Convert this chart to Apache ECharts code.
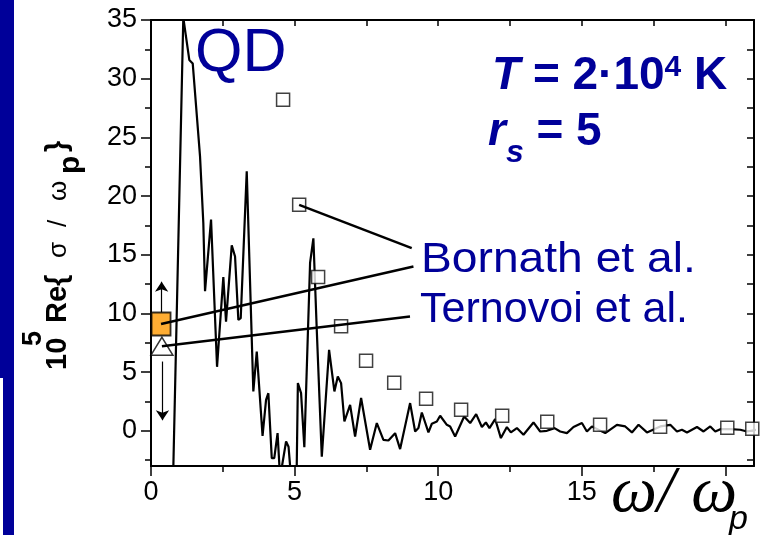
<!DOCTYPE html>
<html>
<head>
<meta charset="utf-8">
<script src="https://cdn.jsdelivr.net/npm/echarts@6/dist/echarts.min.js"></script>
<style>
  html, body { margin: 0; padding: 0; background: #fff; }
  #chart { width: 763px; height: 535px; }
</style>
</head>
<body>
<div id="chart"></div>
<script>
// Quantum-dynamics (QD) result: 10^5 Re{sigma / omega_p} versus omega / omega_p
const omega = [0.77, 1.125, 1.334, 1.453, 1.707, 1.822, 1.882, 2.091, 2.30, 2.519,
  2.613, 2.812, 2.927, 3.042, 3.125, 3.334, 3.564, 3.683, 3.885, 4.007,
  4.087, 4.206, 4.293, 4.408, 4.495, 4.704, 4.79, 4.878, 5.07, 5.115,
  5.226, 5.34, 5.54, 5.655, 5.773, 5.948, 6.202, 6.387, 6.505, 6.62,
  6.735, 6.934, 7.108, 7.317, 7.63, 7.864, 8.094, 8.268, 8.502, 8.676,
  9.024, 9.199, 9.314, 9.432, 9.662, 9.78, 9.955, 10.07, 10.303, 10.418,
  10.592, 10.906, 11.115, 11.324, 11.523, 11.662, 11.787, 11.986, 12.185, 12.394,
  12.533, 12.742, 12.972, 13.32, 13.554, 13.787, 14.052, 14.25, 14.484, 14.714,
  15.007, 15.181, 15.355, 15.819, 16.226, 16.516, 16.749, 16.979, 17.272, 17.735,
  18.084, 18.317, 18.491, 18.666, 19.014, 19.244, 19.477, 19.652, 19.826, 20.174,
  20.523, 20.756, 21.1];
const sigmaQD = [-4.0, 35.2, 31.6, 31.3, 23.4, 17.7, 11.9, 18.0, 5.45, 13.1,
  9.3, 15.8, 14.85, 9.45, 9.6, 22.1, 3.35, 6.75, -0.43, 2.64,
  3.2, -2.33, -2.33, -0.2, -4.0, -0.91, -1.36, -4.0, -4.0, 4.06,
  3.21, -1.4, 14.3, 16.4, 8.6, -2.2, 6.9, 3.35, 4.63, 4.06,
  0.79, 2.21, -0.49, 2.79, -1.62, 0.66, -0.77, -0.83, -0.2, -1.56,
  2.36, -0.06, 0.23, 1.56, -0.14, 0.6, 0.79, 1.28, 0.51, 0.37,
  -0.49, 1.22, 0.66, 1.42, 0.32, 0.71, 0.23, 1.0, -0.62, 0.32,
  -0.14, 0.23, -0.34, 0.71, -0.06, 0.0, 0.23, -0.06, -0.2, 0.32,
  0.66, -0.06, 0.37, -0.2, 0.51, 0.37, -0.14, 0.51, -0.14, 0.37,
  0.51, -0.06, 0.09, -0.14, 0.32, -0.06, 0.37, -0.06, 0.14, 0.14,
  0.09, -0.06, 0.09];

// Bornath et al.: open squares
const bornathOmega = [4.6, 5.16, 5.82, 6.62, 7.49, 8.47, 9.58, 10.8, 12.23, 13.8, 15.64, 17.73, 20.07, 20.94];
const bornathSigma = [28.2, 19.25, 13.1, 8.9, 5.96, 4.09, 2.73, 1.79, 1.28, 0.77, 0.51, 0.34, 0.26, 0.17];

// Static (omega -> 0) values with their uncertainty arrows
const bornathDc = [0.35, 9.1];
const bornathDcUpper = 12.7;
const ternovoiDc = [0.38, 7.2];
const ternovoiDcLower = 0.9;

// Where the pointer lines of the two captions end
const bornathCaptionAt = [[9.08, 15.56], [9.14, 14.0]];
const ternovoiCaptionAt = [9.02, 9.74];

// Axis ticks
const xLabels = [0, 5, 10, 15];
const xMajor = [0, 5, 10, 15, 20];
const xMinor = [2.5, 7.5, 12.5, 17.5];
const xTop = [0, 2.5, 5, 7.5, 10, 12.5, 15, 17.5, 20];
const yMajor = [0, 5, 10, 15, 20, 25, 30, 35];
const yMinor = [-2.5, 2.5, 7.5, 12.5, 17.5, 22.5, 27.5, 32.5];
const yRight = [-2.5, 0, 2.5, 5, 7.5, 10, 12.5, 15, 17.5, 20, 22.5, 25, 27.5, 30, 32.5];

const BLUE = '#000099';
const SANS = '"Liberation Sans", Arial, sans-serif';
const SERIF = '"Liberation Serif", "Times New Roman", serif';

const chart = echarts.init(document.getElementById('chart'), null, { renderer: 'canvas' });

const axisLine = { show: true, onZero: false, lineStyle: { color: '#000', width: 2 } };
const noLine = { show: false, onZero: false };
function xAx(pos, ticks, len, inside, labels, line) {
  return {
    type: 'value', position: pos, min: 0, max: 21,
    axisLine: line ? axisLine : noLine,
    axisTick: { show: true, inside: inside, length: len, customValues: ticks,
      lineStyle: { color: '#000', width: 1.5 } },
    axisLabel: labels ? { show: true, customValues: labels, color: '#000', fontSize: 27,
      fontFamily: SANS, margin: 13 } : { show: false },
    splitLine: { show: false }
  };
}
function yAx(pos, ticks, len, inside, labels, line) {
  return {
    type: 'value', position: pos, min: -3, max: 35,
    axisLine: line ? axisLine : noLine,
    axisTick: { show: true, inside: inside, length: len, customValues: ticks,
      lineStyle: { color: '#000', width: 1.5 } },
    axisLabel: labels ? { show: true, customValues: labels, color: '#000', fontSize: 27,
      fontFamily: SANS, margin: 14 } : { show: false },
    splitLine: { show: false }
  };
}

const pairs = (xs, ys) => xs.map((x, i) => [x, ys[i]]);

const option = {
  backgroundColor: '#fff',
  animation: false,
  grid: { left: 151, right: 9, top: 20, bottom: 69, containLabel: false, outerBoundsMode: 'none' },
  xAxis: [
    xAx('bottom', xMajor, 10, false, xLabels, true),
    xAx('bottom', xMinor, 6, false, null, false),
    xAx('top', xTop, 6, true, null, true)
  ],
  yAxis: [
    yAx('left', yMajor, 10, false, yMajor, true),
    yAx('left', yMinor, 6, false, null, false),
    yAx('right', yRight, 7, true, null, true)
  ],
  series: [
    {
      name: 'QD', type: 'line', xAxisIndex: 0, yAxisIndex: 0,
      data: pairs(omega, sigmaQD), showSymbol: false, symbol: 'none',
      clip: true, z: 2,
      lineStyle: { color: '#000', width: 2.2 }
    },
    {
      name: 'Bornath et al.', type: 'scatter', data: pairs(bornathOmega, bornathSigma),
      symbol: 'rect', symbolSize: 13, z: 3,
      itemStyle: { color: '#fff', borderColor: '#111', borderWidth: 1.5 }
    },
    {
      name: 'Bornath et al. (static)', type: 'scatter', data: [bornathDc],
      symbol: 'rect', symbolSize: [19, 23], z: 3,
      itemStyle: { color: '#FF9900', borderColor: '#000', borderWidth: 2 }
    },
    {
      name: 'Ternovoi et al.', type: 'scatter', data: [ternovoiDc],
      symbol: 'triangle', symbolSize: [22, 18], z: 3,
      itemStyle: { color: '#fff', borderColor: '#000', borderWidth: 1.5 }
    },
    {
      name: 'annotations', type: 'line', data: [], z: 5, silent: true,
      markLine: {
        silent: true, animation: false,
        label: { show: false },
        emphasis: { disabled: true },
        data: [
          [{ coord: [bornathOmega[1], bornathSigma[1]], symbol: 'none', lineStyle: { width: 2.5 } },
           { coord: bornathCaptionAt[0], symbol: 'none' }],
          [{ coord: bornathDc, symbol: 'none', lineStyle: { width: 2.5 } },
           { coord: bornathCaptionAt[1], symbol: 'none' }],
          [{ coord: ternovoiDc, symbol: 'none', lineStyle: { width: 2.5 } },
           { coord: ternovoiCaptionAt, symbol: 'none' }],
          [{ coord: [bornathDc[0] + 0.02, bornathDc[1] + 1.0], symbol: 'none', lineStyle: { width: 1.2 } },
           { coord: [bornathDc[0] + 0.02, bornathDcUpper], symbol: 'arrow', symbolSize: 10 }],
          [{ coord: [ternovoiDc[0] + 0.02, ternovoiDc[1] - 1.3], symbol: 'none', lineStyle: { width: 1.2 } },
           { coord: [ternovoiDc[0] + 0.02, ternovoiDcLower], symbol: 'arrow', symbolSize: 10 }]
        ],
        lineStyle: { color: '#000', type: 'solid', width: 2.5 },
        itemStyle: { color: '#000' }
      }
    }
  ],
  graphic: [
    // left decorative bar
    { type: 'rect', shape: { x: 0, y: 0, width: 14, height: 378 }, style: { fill: BLUE }, silent: true },
    { type: 'rect', shape: { x: 3, y: 378, width: 11, height: 157 }, style: { fill: BLUE }, silent: true },
    // plot labels
    { type: 'text', x: 195, y: 54, silent: true,
      style: { text: 'QD', font: '61px ' + SANS, fill: BLUE, textVerticalAlign: 'middle' } },
    { type: 'text', x: 492, y: 99, silent: true,
      style: {
        text: '{it|T}{b| = 2·10}{sup|4}{b| K}', textVerticalAlign: 'bottom', fill: BLUE,
        rich: {
          it: { fontFamily: SANS, fontSize: 46, fontWeight: 'bold', fontStyle: 'italic', fill: BLUE, verticalAlign: 'bottom' },
          b: { fontFamily: SANS, fontSize: 46, fontWeight: 'bold', fill: BLUE, verticalAlign: 'bottom' },
          sup: { fontFamily: SANS, fontSize: 30, fontWeight: 'bold', fill: BLUE, verticalAlign: 'bottom', padding: [0, 0, 16, 0] }
        }
      } },
    { type: 'text', x: 488, y: 169, silent: true,
      style: {
        text: '{r|r}{s|s}{b| = 5}', textVerticalAlign: 'bottom', fill: BLUE,
        rich: {
          r: { fontFamily: SANS, fontSize: 46, fontWeight: 'bold', fontStyle: 'italic', fill: BLUE, verticalAlign: 'bottom', padding: [0, 0, 14, 0] },
          s: { fontFamily: SANS, fontSize: 32, fontWeight: 'bold', fontStyle: 'italic', fill: BLUE, verticalAlign: 'bottom' },
          b: { fontFamily: SANS, fontSize: 46, fontWeight: 'bold', fill: BLUE, verticalAlign: 'bottom', padding: [0, 0, 14, 0] }
        }
      } },
    { type: 'text', x: 421, y: 260, scaleX: 1.1, silent: true,
      style: { text: 'Bornath et al.', font: '42px ' + SANS, fill: BLUE, textVerticalAlign: 'middle' } },
    { type: 'text', x: 420, y: 310, scaleX: 1.025, silent: true,
      style: { text: 'Ternovoi et al.', font: '42px ' + SANS, fill: BLUE, textVerticalAlign: 'middle' } },
    // x-axis title
    { type: 'text', x: 611, y: 494, silent: true,
      style: { text: 'ω/ ω', font: 'italic 65px ' + SERIF, fill: '#000', textVerticalAlign: 'middle' } },
    { type: 'text', x: 729, y: 520, silent: true,
      style: { text: 'p', font: 'italic 34px ' + SANS, fill: '#000', textVerticalAlign: 'middle' } },
    // y-axis title, reading bottom to top
    { type: 'group', x: 68, y: 370, rotation: Math.PI / 2, silent: true,
      children: [
        { type: 'text', x: 0, y: -10.5, style: { text: '10', font: 'bold 29px ' + SANS, fill: '#000', textVerticalAlign: 'middle' } },
        { type: 'text', x: 24, y: -34, style: { text: '5', font: 'bold 27px ' + SANS, fill: '#000', textVerticalAlign: 'middle' } },
        { type: 'text', x: 47, y: -10.5, style: { text: 'Re{', font: 'bold 29px ' + SANS, fill: '#000', textVerticalAlign: 'middle' } },
        { type: 'text', x: 112, y: -9, style: { text: 'σ', font: '26px ' + SANS, fill: '#000', textVerticalAlign: 'middle' } },
        { type: 'text', x: 143, y: -9, style: { text: '/', font: '26px ' + SANS, fill: '#000', textVerticalAlign: 'middle' } },
        { type: 'text', x: 169, y: -9, style: { text: 'ω', font: '26px ' + SANS, fill: '#000', textVerticalAlign: 'middle' } },
        { type: 'text', x: 196, y: 3, style: { text: 'p', font: 'bold 30px ' + SANS, fill: '#000', textVerticalAlign: 'middle' } },
        { type: 'text', x: 218, y: -10.5, style: { text: '}', font: 'bold 29px ' + SANS, fill: '#000', textVerticalAlign: 'middle' } }
      ] }
  ]
};

chart.setOption(option);
</script>
</body>
</html>
